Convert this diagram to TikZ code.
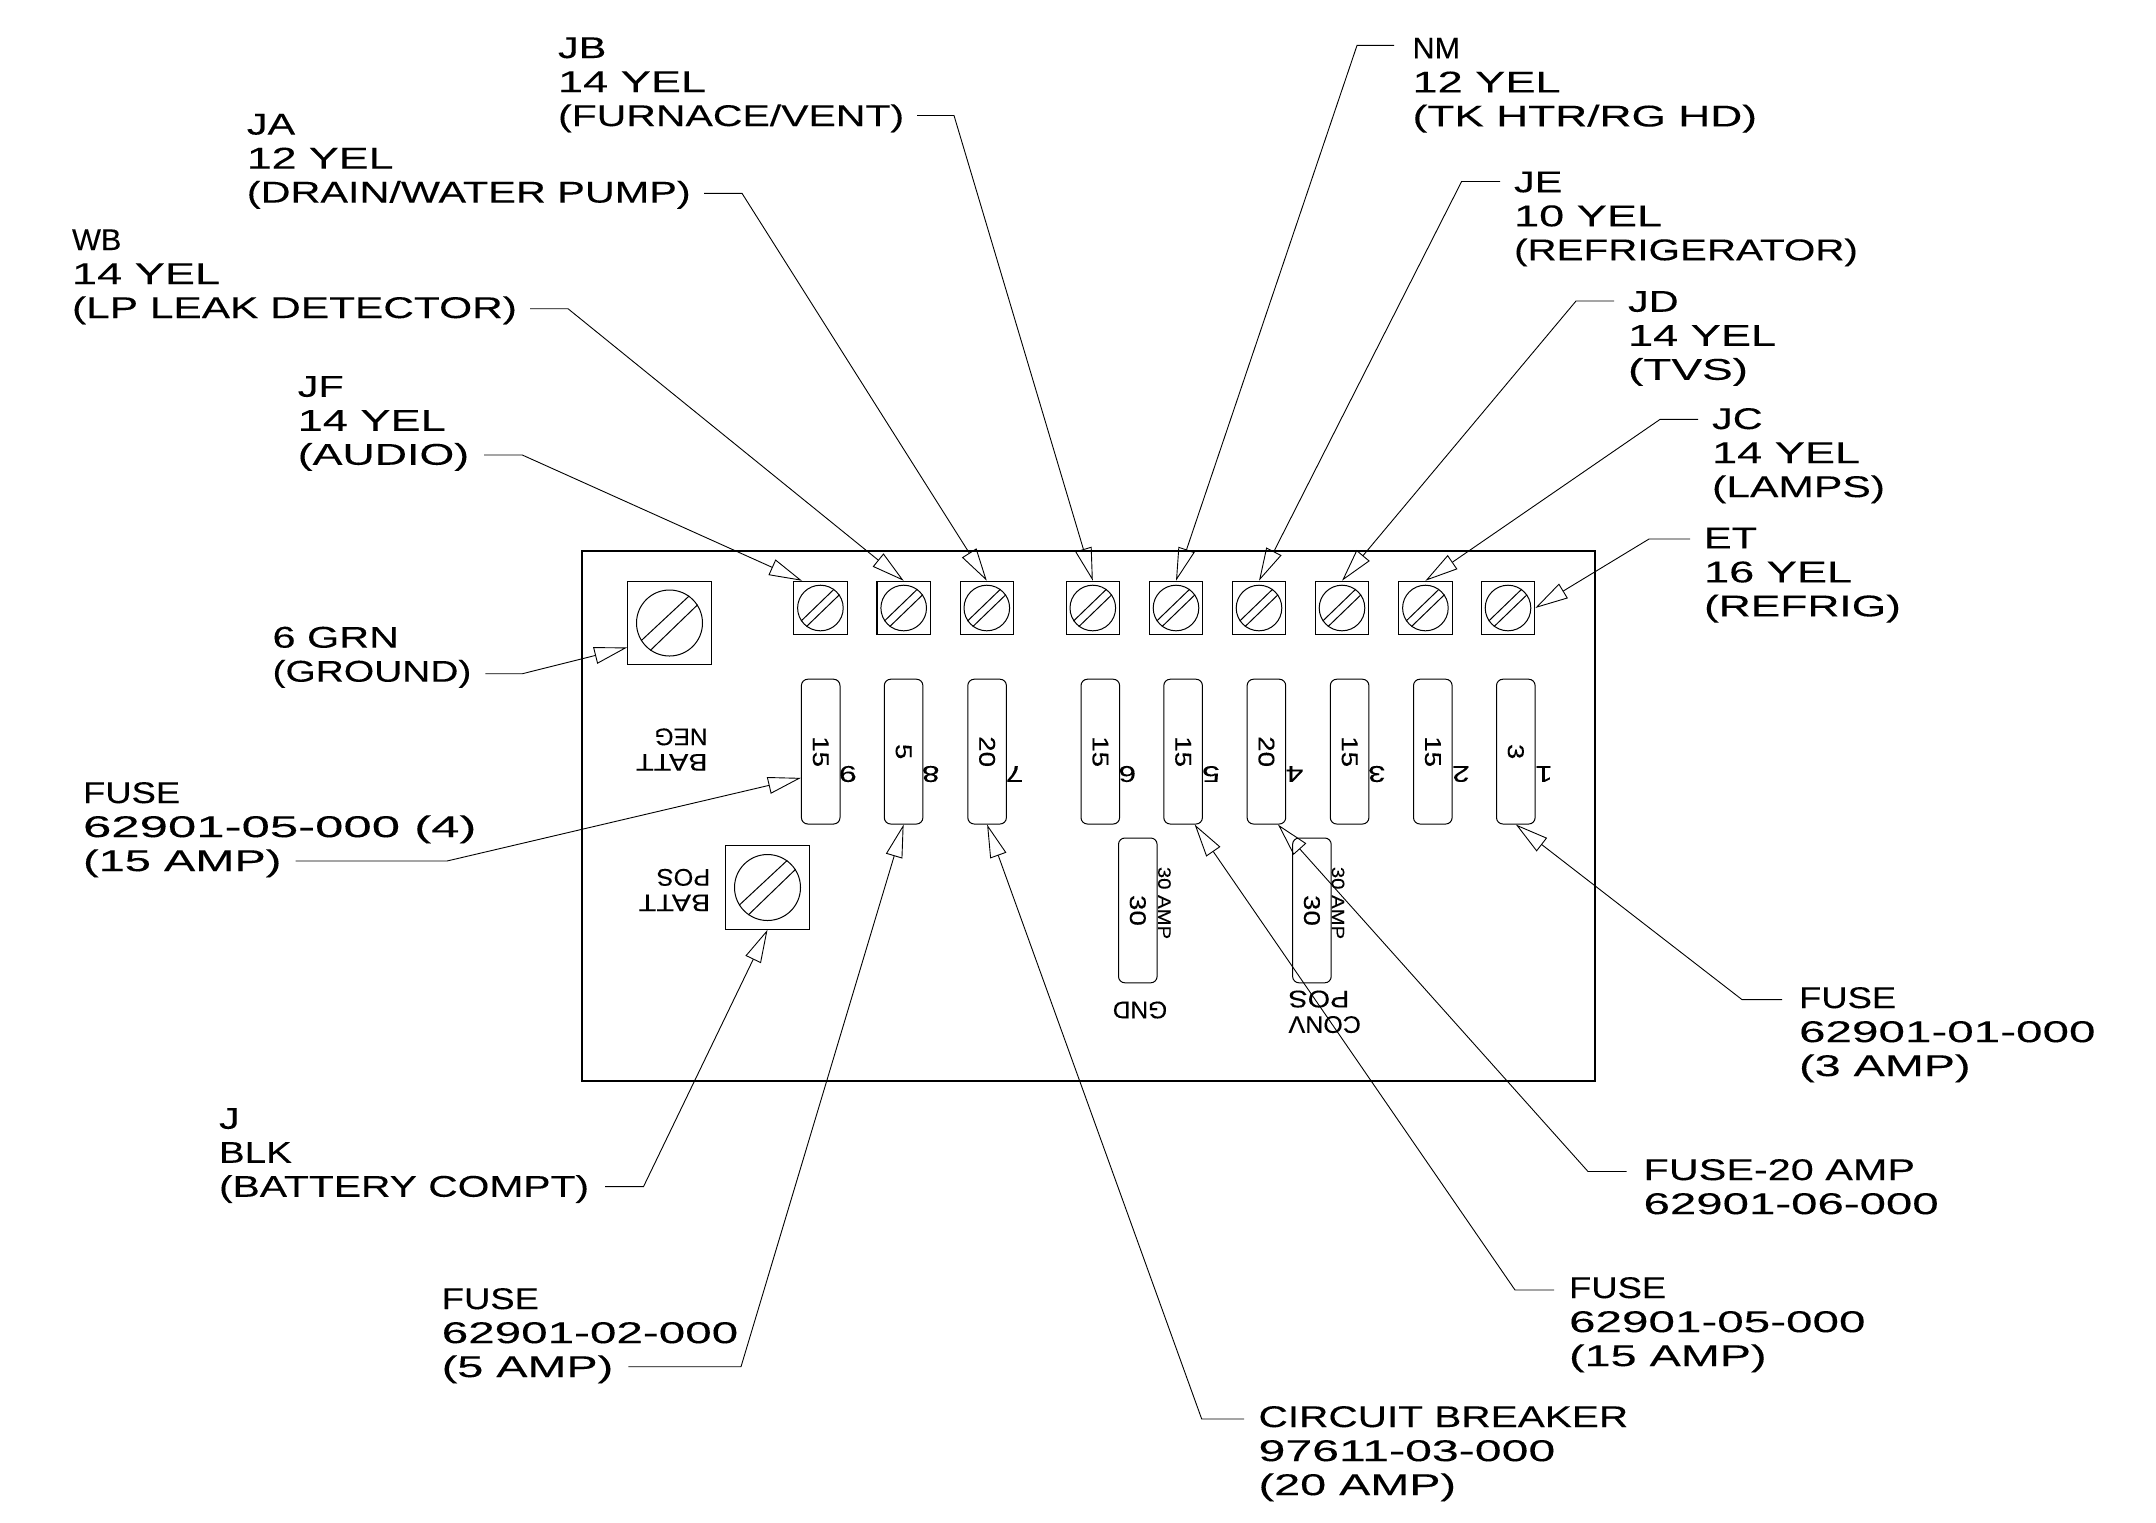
\documentclass[tikz,border=0pt]{standalone}
\usepackage{fontspec}
\setmainfont{Liberation Sans}[FakeBold=0.15]
\usetikzlibrary{arrows.meta}
\newcommand{\linefit}[2]{\scalebox{#1}[1]{#2}}
\begin{document}
\begin{tikzpicture}[
    x=0.5pt, y=-0.5pt,
    panel/.style={draw, line width=0.6pt},
    terminal/.style={rectangle, draw, line width=0.55pt, minimum size=26.7pt, inner sep=0pt},
    bigterminal/.style={rectangle, draw, line width=0.55pt, minimum width=41.8pt, minimum height=41.7pt, inner sep=0pt},
    screw/.style={circle, draw, line width=0.5pt, minimum size=22.8pt, inner sep=0pt},
    bigscrew/.style={circle, draw, line width=0.5pt, minimum size=33pt, inner sep=0pt},
    slash/.style={line width=0.5pt},
    fuse/.style={rectangle, draw, rounded corners=3.2pt, line width=0.5pt, minimum width=19.3pt, minimum height=72.4pt, inner sep=0pt},
    amps/.style={rotate=-90, transform shape, xscale=1.22, inner sep=0pt, font=\fontsize{11.4}{13}\selectfont},
    tiny amps/.style={rotate=-90, transform shape, xscale=1.13, inner sep=0pt, font=\fontsize{9}{10}\selectfont},
    slotnum/.style={rotate=180, transform shape, xscale=1.4, inner sep=0pt, font=\fontsize{11.4}{13}\selectfont},
    mark text/.style={rotate=180, transform shape, xscale=1.2, inner sep=0pt, font=\fontsize{12}{12.75}\selectfont},
    callout/.style={anchor=north west, transform shape, xscale=1.38, inner sep=0pt, align=left, font=\fontsize{15}{17}\selectfont},
    leader/.style={line width=0.45pt, -{Triangle[open, length=16.5pt, width=8.5pt]}}
]
\useasboundingbox (0,0) rectangle (2156,1522);

% panel outline
\draw[panel] (582,551) rectangle (1595,1081);

% ground and battery studs
\node[bigterminal] (ground) at (669.5,623) {};
\node[bigscrew] (groundscrew) at (ground) {};
\draw[slash] (groundscrew.212) -- (groundscrew.54) (groundscrew.235) -- (groundscrew.33);
\node[bigterminal] (battpos) at (767.5,887.5) {};
\node[bigscrew] (battscrew) at (battpos) {};
\draw[slash] (battscrew.212) -- (battscrew.54) (battscrew.235) -- (battscrew.33);

% output terminals
\node[terminal] (term9) at (820.4,608) {};
\node[terminal] (term8) at (903.7,608) {};
\node[terminal] (term7) at (986.8,608) {};
\node[terminal] (term6) at (1092.8,608) {};
\node[terminal] (term5) at (1176,608) {};
\node[terminal] (term4) at (1259,608) {};
\node[terminal] (term3) at (1342,608) {};
\node[terminal] (term2) at (1425.4,608) {};
\node[terminal] (term1) at (1508,608) {};
\node[screw] (screw9) at (term9) {};
\node[screw] (screw8) at (term8) {};
\node[screw] (screw7) at (term7) {};
\node[screw] (screw6) at (term6) {};
\node[screw] (screw5) at (term5) {};
\node[screw] (screw4) at (term4) {};
\node[screw] (screw3) at (term3) {};
\node[screw] (screw2) at (term2) {};
\node[screw] (screw1) at (term1) {};
\draw[slash] (screw9.214) -- (screw9.54) (screw9.233) -- (screw9.35);
\draw[slash] (screw8.214) -- (screw8.54) (screw8.233) -- (screw8.35);
\draw[slash] (screw7.214) -- (screw7.54) (screw7.233) -- (screw7.35);
\draw[slash] (screw6.214) -- (screw6.54) (screw6.233) -- (screw6.35);
\draw[slash] (screw5.214) -- (screw5.54) (screw5.233) -- (screw5.35);
\draw[slash] (screw4.214) -- (screw4.54) (screw4.233) -- (screw4.35);
\draw[slash] (screw3.214) -- (screw3.54) (screw3.233) -- (screw3.35);
\draw[slash] (screw2.214) -- (screw2.54) (screw2.233) -- (screw2.35);
\draw[slash] (screw1.214) -- (screw1.54) (screw1.233) -- (screw1.35);

% fuses
\node[fuse] (fuse9) at (820.7,751.6) {};
\node[fuse] (fuse8) at (903.6,751.6) {};
\node[fuse] (fuse7) at (987.1,751.6) {};
\node[fuse] (fuse6) at (1100.3,751.6) {};
\node[fuse] (fuse5) at (1183.1,751.6) {};
\node[fuse] (fuse4) at (1266.4,751.6) {};
\node[fuse] (fuse3) at (1349.6,751.6) {};
\node[fuse] (fuse2) at (1432.8,751.6) {};
\node[fuse] (fuse1) at (1515.8,751.6) {};
\node[fuse] (gndfuse) at (1137.8,910.4) {};
\node[fuse] (posfuse) at (1311.9,910.4) {};
\node[amps] (amps9) at (fuse9) {15};
\node[amps] (amps8) at (fuse8) {5};
\node[amps] (amps7) at (fuse7) {20};
\node[amps] (amps6) at (fuse6) {15};
\node[amps] (amps5) at (fuse5) {15};
\node[amps] (amps4) at (fuse4) {20};
\node[amps] (amps3) at (fuse3) {15};
\node[amps] (amps2) at (fuse2) {15};
\node[amps] (amps1) at (fuse1) {3};
\node[amps] (ampsgnd) at (gndfuse) {30};
\node[amps] (ampspos) at (posfuse) {30};
\node[tiny amps] (ratinggnd) at (1164.4,903) {30 AMP};
\node[tiny amps] (ratingpos) at (1338,903) {30 AMP};

% slot numbers
\node[slotnum] (num9) at (847.9,774) {9};
\node[slotnum] (num8) at (930.7,774) {8};
\node[slotnum] (num7) at (1014.6,774) {7};
\node[slotnum] (num6) at (1127.3,774) {6};
\node[slotnum] (num5) at (1211,774) {5};
\node[slotnum] (num4) at (1294.5,774) {4};
\node[slotnum] (num3) at (1376.8,774) {3};
\node[slotnum] (num2) at (1461,774) {2};
\node[slotnum] (num1) at (1544,774) {1};

% board markings
\node[mark text, align=left] (battneg) at (671.8,749.5) {BATT\\\linefit{.85}{NEG}};
\node[mark text, align=left] (battmark) at (674.5,890) {BATT\\\linefit{.88}{POS}};
\node[mark text] (gndmark) at (1140,1010) {\linefit{.85}{GND}};
\node[mark text, align=right] (convmark) at (1324.7,1011.8) {\linefit{.87}{CONV}\\POS};

% callouts
\node[callout] (lblJB) at (557.5,37) {JB\\\linefit{1.09}{14 YEL}\\\linefit{.99}{(FURNACE/VENT)}};
\node[callout] (lblJA) at (246.3,113.5) {JA\\\linefit{1.08}{12 YEL}\\(DRAIN/WATER PUMP)};
\node[callout] (lblWB) at (71.5,229) {\linefit{.74}{WB}\\\linefit{1.09}{14 YEL}\\\linefit{1.025}{(LP LEAK DETECTOR)}};
\node[callout] (lblJF) at (297.2,375.7) {JF\\\linefit{1.09}{14 YEL}\\\linefit{1.08}{(AUDIO)}};
\node[callout] (lblNM) at (1412,37.4) {\linefit{.74}{NM}\\\linefit{1.09}{12 YEL}\\\linefit{1.07}{(TK HTR/RG HD)}};
\node[callout] (lblJE) at (1513.5,171.2) {JE\\\linefit{1.09}{10 YEL}\\\linefit{.975}{(REFRIGERATOR)}};
\node[callout] (lblJD) at (1627.5,290.7) {JD\\\linefit{1.09}{14 YEL}\\\linefit{1.11}{(TVS)}};
\node[callout] (lblJC) at (1711.5,407.7) {JC\\\linefit{1.09}{14 YEL}\\\linefit{1.03}{(LAMPS)}};
\node[callout] (lblET) at (1703.5,527.3) {ET\\\linefit{1.09}{16 YEL}\\\linefit{1.07}{(REFRIG)}};
\node[callout] (lblGRN) at (272,626.3) {6 GRN\\\linefit{.94}{(GROUND)}};
\node[callout] (lblFUSEa) at (82.5,781.7) {\linefit{.88}{FUSE}\\\linefit{1.23}{62901-05-000 (4)}\\\linefit{1.135}{(15 AMP)}};
\node[callout] (lblBLK) at (218.5,1107.7) {J\\\linefit{.93}{BLK}\\\linefit{.985}{(BATTERY COMPT)}};
\node[callout] (lblFUSEb) at (441.2,1287.7) {\linefit{.88}{FUSE}\\\linefit{1.15}{62901-02-000}\\\linefit{1.13}{(5 AMP)}};
\node[callout] (lblCB) at (1258,1405.7) {\linefit{.98}{CIRCUIT BREAKER}\\\linefit{1.165}{97611-03-000}\\\linefit{1.13}{(20 AMP)}};
\node[callout] (lblFUSEc) at (1568.5,1276.7) {\linefit{.88}{FUSE}\\\linefit{1.15}{62901-05-000}\\\linefit{1.13}{(15 AMP)}};
\node[callout] (lblFUSEd) at (1643,1158.7) {FUSE-20 AMP\\\linefit{1.145}{62901-06-000}};
\node[callout] (lblFUSEe) at (1798.5,986.7) {\linefit{.88}{FUSE}\\\linefit{1.15}{62901-01-000}\\\linefit{1.13}{(3 AMP)}};

% leader ends and elbows
\coordinate (startJB) at (917,115.5);
\coordinate (kneeJB) at (954,115.5);
\coordinate (startJA) at (704,193.3);
\coordinate (kneeJA) at (742,193.3);
\coordinate (startWB) at (530,308.7);
\coordinate (kneeWB) at (568,308.7);
\coordinate (startJF) at (484,455);
\coordinate (kneeJF) at (522.3,455);
\coordinate (startNM) at (1394,45.4);
\coordinate (kneeNM) at (1357,45.4);
\coordinate (startJE) at (1500,181.5);
\coordinate (kneeJE) at (1461.6,181.5);
\coordinate (startJD) at (1614,301);
\coordinate (kneeJD) at (1576,301);
\coordinate (startJC) at (1698,419.4);
\coordinate (kneeJC) at (1660,419.4);
\coordinate (startET) at (1690,539);
\coordinate (kneeET) at (1649,539);
\coordinate (startGRN) at (485.4,673.7);
\coordinate (kneeGRN) at (522.5,673.7);
\coordinate (startFUSEa) at (295.6,861);
\coordinate (kneeFUSEa) at (447,861);
\coordinate (startBLK) at (605,1186.6);
\coordinate (kneeBLK) at (643.5,1186.6);
\coordinate (startFUSEb) at (628.4,1366.7);
\coordinate (kneeFUSEb) at (741,1366.7);
\coordinate (startCB) at (1244,1419);
\coordinate (kneeCB) at (1201.7,1419);
\coordinate (startFUSEc) at (1554,1290);
\coordinate (kneeFUSEc) at (1515,1290);
\coordinate (startFUSEd) at (1626.6,1171.5);
\coordinate (kneeFUSEd) at (1588,1171.5);
\coordinate (startFUSEe) at (1782,999.6);
\coordinate (kneeFUSEe) at (1742,999.6);

% leaders
\draw[leader] (startJF) -- (kneeJF) -- (term9.124);
\draw[leader] (startWB) -- (kneeWB) -- (term8.north);
\draw[leader] (startJA) -- (kneeJA) -- (term7.north);
\draw[leader] (startJB) -- (kneeJB) -- (term6.north);
\draw[leader] (startNM) -- (kneeNM) -- (term5.north);
\draw[leader] (startJE) -- (kneeJE) -- (term4.north);
\draw[leader] (startJD) -- (kneeJD) -- (term3.north);
\draw[leader] (startJC) -- (kneeJC) -- (term2.north);
\draw[leader] (startET) -- (kneeET) -- (term1.east);
\draw[leader] (startGRN) -- (kneeGRN) -- (ground.210);
\draw[leader] (startFUSEa) -- (kneeFUSEa) -- (fuse9.233);
\draw[leader] (startBLK) -- (kneeBLK) -- (battpos.south);
\draw[leader] (startFUSEb) -- (kneeFUSEb) -- (fuse8.south);
\draw[leader] (startCB) -- (kneeCB) -- (fuse7.south);
\draw[leader] (startFUSEc) -- (kneeFUSEc) -- (fuse5.279);
\draw[leader] (startFUSEd) -- (kneeFUSEd) -- (fuse4.279);
\draw[leader] (startFUSEe) -- (kneeFUSEe) -- (fuse1.south);
\end{tikzpicture}
\end{document}
